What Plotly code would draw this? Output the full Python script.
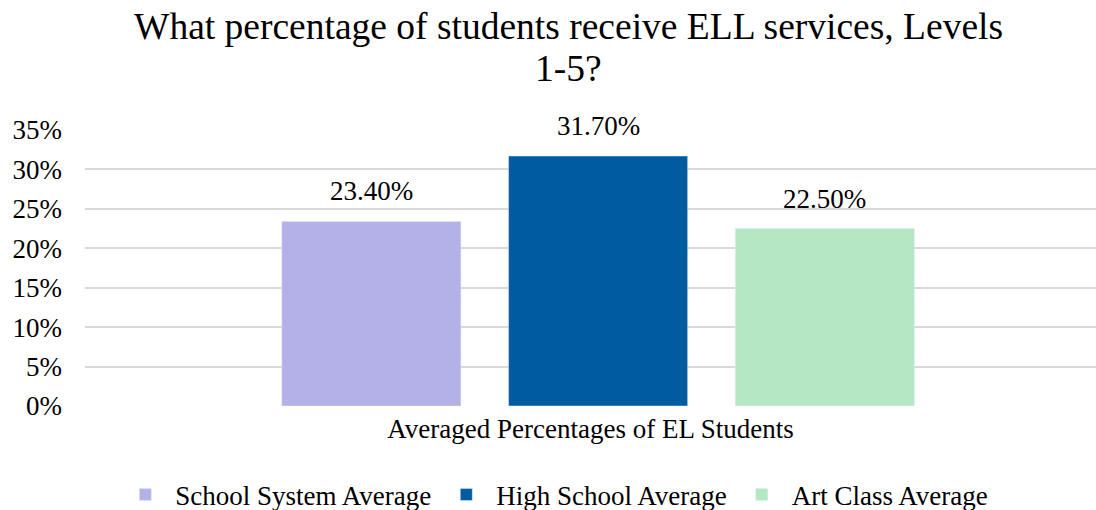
import plotly.graph_objects as go

# Chart data
series_names = ["School System Average", "High School Average", "Art Class Average"]
values = [23.4, 31.7, 22.5]
colors = ["#B4B0E8", "#005BA0", "#B4E7C4"]
tick_vals = [0, 5, 10, 15, 20, 25, 30, 35]
tick_text = [f"{v}%" for v in tick_vals]
category_label = "Averaged Percentages of EL Students"
title_lines = ["What percentage of students receive ELL services, Levels", "1-5?"]

FONT = "Liberation Serif"
PLOT_TOP, PLOT_BOTTOM = 130, 406
PLOT_H = PLOT_BOTTOM - PLOT_TOP


def paper_y(px):
    """Convert a pixel row (from the top of the page) to paper y."""
    return (PLOT_BOTTOM - px) / PLOT_H


fig = go.Figure()
for i, (name, val, col) in enumerate(zip(series_names, values, colors)):
    fig.add_trace(go.Bar(
        x=[i], y=[val], name=name, marker_color=col,
        width=0.79, hoverinfo="skip",
    ))
    fig.add_annotation(
        x=i, y=val, xref="x", yref="y",
        text=f"{val:.2f}%", showarrow=False,
        yanchor="bottom", yshift=13,
        font=dict(family=FONT, size=27, color="#000000"),
    )

# two-line chart title
for line, row in zip(title_lines, [27, 69]):
    fig.add_annotation(
        x=0.478, xref="paper", xanchor="center",
        y=paper_y(row), yref="paper", yanchor="middle",
        text=line, showarrow=False,
        font=dict(family=FONT, size=37.5, color="#000000"),
    )

fig.update_layout(
    width=1096, height=510,
    margin=dict(l=85, r=0, t=PLOT_TOP, b=510 - PLOT_BOTTOM, autoexpand=False),
    paper_bgcolor="white", plot_bgcolor="white",
    barmode="overlay",
    font=dict(family=FONT, color="#000000"),
    showlegend=True,
    legend=dict(
        orientation="h", x=0.03, xanchor="left", xref="paper",
        y=1 - 495 / 510, yanchor="middle", yref="container",
        font=dict(family=FONT, size=27, color="#000000"),
        itemwidth=50,
    ),
    xaxis=dict(
        range=[-1.263, 3.196], showticklabels=False, showgrid=False,
        zeroline=False, showline=False, ticks="", automargin=False,
        title=dict(text=category_label, standoff=13,
                   font=dict(family=FONT, size=27, color="#000000")),
        fixedrange=True,
    ),
    yaxis=dict(
        range=[0, 35], tickvals=tick_vals, ticktext=tick_text,
        showgrid=True, gridcolor="#D9D9D9", gridwidth=2,
        zeroline=False, showline=False, ticks="", ticklabelstandoff=22,
        automargin=False,
        tickfont=dict(family=FONT, size=27, color="#000000"),
        fixedrange=True,
    ),
)

fig.write_html("out.html")
